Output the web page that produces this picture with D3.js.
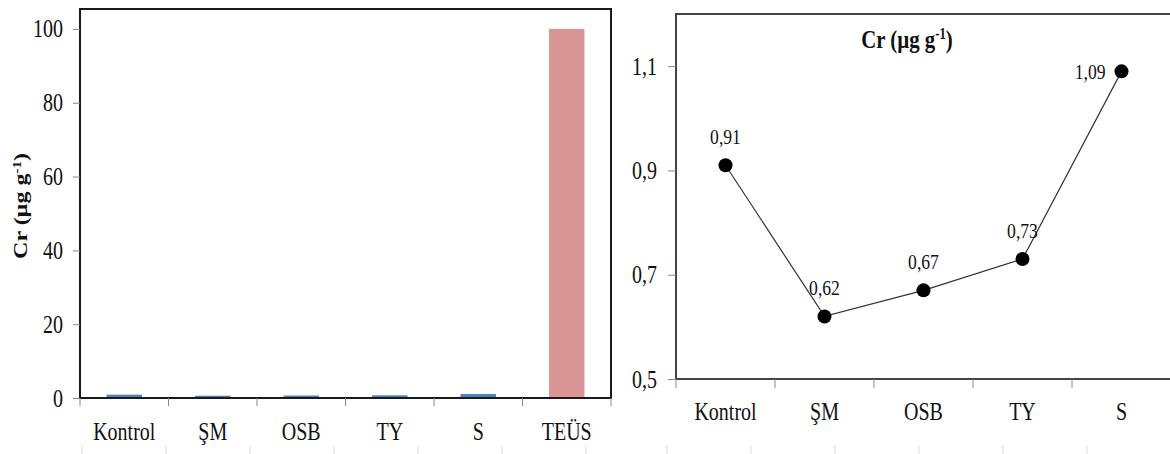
<!DOCTYPE html>
<html>
<head>
<meta charset="utf-8">
<script src="https://cdn.jsdelivr.net/npm/d3@7"></script>
<style>
  html, body { margin: 0; padding: 0; background: #fff; }
  svg { display: block; }
  text { font-family: "Liberation Serif", "Times New Roman", serif; fill: #111; }
</style>
</head>
<body>
<svg id="chart" width="1170" height="454"></svg>
<script>
// ---------- data ----------
const barCategories = ["Kontrol", "ŞM", "OSB", "TY", "S", "TEÜS"];
const barValues = [0.91, 0.62, 0.67, 0.73, 1.09, 100];
const barTicks = [0, 20, 40, 60, 80, 100];

const lineCategories = ["Kontrol", "ŞM", "OSB", "TY", "S"];
const lineValues = [0.91, 0.62, 0.67, 0.73, 1.09];
const lineLabels = ["0,91", "0,62", "0,67", "0,73", "1,09"];
const lineTicks = [0.5, 0.7, 0.9, 1.1];
const lineTickLabels = ["0,5", "0,7", "0,9", "1,1"];
const lineLabelSide = ["top", "top", "top", "top", "left"];

const titleMain = "Cr (µg g";
const titleSup = "-1";

// ---------- setup ----------
const SX = 0.8; // horizontal squeeze of the original picture's text
const svg = d3.select("#chart");

// ================= LEFT: bar chart =================
const L = { x0: 80, x1: 611, top: 9, zero: 398 };
const xL = d3.scaleBand().domain(barCategories).range([L.x0, L.x1]).padding(0);
const yL = d3.scaleLinear().domain([0, 105.4]).range([L.zero, L.top]);

const gL = svg.append("g");

// bars
gL.selectAll("rect.bar").data(barCategories).join("rect")
  .attr("class", "bar")
  .attr("x", (d) => xL(d) + xL.bandwidth() * 0.3)
  .attr("width", xL.bandwidth() * 0.4)
  .attr("y", (d, i) => yL(barValues[i]))
  .attr("height", (d, i) => yL(0) - yL(barValues[i]))
  .attr("fill", (d, i) => i === barCategories.length - 1 ? "#D99694" : "#4F81BD");

// frame
gL.append("rect")
  .attr("x", L.x0).attr("y", L.top)
  .attr("width", L.x1 - L.x0).attr("height", L.zero - L.top)
  .attr("fill", "none").attr("stroke", "#1a1a1a").attr("stroke-width", 2);

// y axis
const axL = gL.append("g").attr("transform", `translate(${L.x0},0)`)
  .call(d3.axisLeft(yL).tickValues(barTicks).tickSize(7).tickPadding(10));
axL.select(".domain").remove();
axL.selectAll(".tick line").attr("stroke", "#888");
axL.selectAll(".tick text").attr("font-size", 25).attr("fill", "#111")
  .style("font-family", "Liberation Serif");

// x axis ticks at band edges
const edgesL = barCategories.map((c) => xL(c)).concat([L.x1]);
gL.selectAll("line.xt").data(edgesL).join("line")
  .attr("x1", (d) => d).attr("x2", (d) => d)
  .attr("y1", L.zero).attr("y2", L.zero + 8)
  .attr("stroke", "#888");
gL.selectAll("text.xl").data(barCategories).join("text")
  .attr("class", "xl")
  .attr("x", (d) => xL(d) + xL.bandwidth() / 2)
  .attr("y", 440)
  .attr("text-anchor", "middle")
  .attr("font-size", 25)
  .text((d) => d);

// y title (rotated)
const yt = gL.append("g").attr("transform", "translate(27,206) rotate(-90)")
  .append("text").attr("data-noscale", 1)
  .attr("transform", `scale(1,${SX})`)
  .attr("text-anchor", "middle").attr("font-size", 24).attr("font-weight", "bold");
yt.append("tspan").text(titleMain);
yt.append("tspan").attr("baseline-shift", "super").attr("font-size", 15).text(titleSup);
yt.append("tspan").text(")");

// faint grid stubs at bottom
const stubL = d3.scaleBand().domain(d3.range(6)).range([82, 586]);
gL.selectAll("line.stub").data(d3.range(7)).join("line")
  .attr("x1", (d) => d < 6 ? stubL(d) : 586).attr("x2", (d) => d < 6 ? stubL(d) : 586)
  .attr("y1", 445).attr("y2", 454).attr("stroke", "#ddd");

// ================= RIGHT: line chart =================
const R = { x0: 676, x1: 1171, top: 14, bottom: 379 };
const xR = d3.scaleBand().domain(lineCategories).range([R.x0, R.x1]).padding(0);
const yR = d3.scaleLinear().domain([0.5, 1.2]).range([R.bottom, R.top]);

const gR = svg.append("g");

// frame: left, top, bottom
gR.append("path")
  .attr("d", `M${R.x1},${R.top}H${R.x0}V${R.bottom}H${R.x1}`)
  .attr("fill", "none").attr("stroke", "#444").attr("stroke-width", 2);

// y axis
const axR = gR.append("g").attr("transform", `translate(${R.x0},0)`)
  .call(d3.axisLeft(yR).tickValues(lineTicks).tickSize(8).tickPadding(11)
    .tickFormat((d, i) => lineTickLabels[i]));
axR.select(".domain").remove();
axR.selectAll(".tick line").attr("stroke", "#888");
axR.selectAll(".tick text").attr("font-size", 25).attr("fill", "#111")
  .style("font-family", "Liberation Serif");

// x ticks
const edgesR = lineCategories.map((c) => xR(c)).concat([R.x1]);
gR.selectAll("line.xt").data(edgesR).join("line")
  .attr("x1", (d) => d).attr("x2", (d) => d)
  .attr("y1", R.bottom).attr("y2", R.bottom + 9)
  .attr("stroke", "#888");
gR.selectAll("text.xl").data(lineCategories).join("text")
  .attr("class", "xl")
  .attr("x", (d) => xR(d) + xR.bandwidth() / 2)
  .attr("y", 420)
  .attr("text-anchor", "middle")
  .attr("font-size", 25)
  .text((d) => d);

// title
const tt = gR.append("text")
  .attr("x", 907).attr("y", 48)
  .attr("text-anchor", "middle").attr("font-size", 26).attr("font-weight", "bold");
tt.append("tspan").text(titleMain);
tt.append("tspan").attr("baseline-shift", "super").attr("font-size", 16).text(titleSup);
tt.append("tspan").text(")");

// line
const cx = (d) => xR(d) + xR.bandwidth() / 2;
gR.append("path")
  .datum(lineCategories)
  .attr("d", d3.line().x(cx).y((d, i) => yR(lineValues[i])))
  .attr("fill", "none").attr("stroke", "#333").attr("stroke-width", 1.2);

gR.selectAll("circle.pt").data(lineCategories).join("circle")
  .attr("class", "pt")
  .attr("cx", cx).attr("cy", (d, i) => yR(lineValues[i]))
  .attr("r", 7).attr("fill", "#000");

gR.selectAll("text.dl").data(lineCategories).join("text")
  .attr("class", "dl")
  .attr("x", (d, i) => lineLabelSide[i] === "left" ? cx(d) - 16 : cx(d))
  .attr("y", (d, i) => lineLabelSide[i] === "left" ? yR(lineValues[i]) + 8 : yR(lineValues[i]) - 21)
  .attr("text-anchor", (d, i) => lineLabelSide[i] === "left" ? "end" : "middle")
  .attr("font-size", 22)
  .text((d, i) => lineLabels[i]);

// faint grid stubs at bottom
const stubR = d3.scaleBand().domain(d3.range(5)).range([667, 1087]);
gR.selectAll("line.stub").data(d3.range(6)).join("line")
  .attr("x1", (d) => d < 5 ? stubR(d) : 1087).attr("x2", (d) => d < 5 ? stubR(d) : 1087)
  .attr("y1", 445).attr("y2", 454).attr("stroke", "#ddd");

// ---------- squeeze text horizontally like the original ----------
svg.selectAll("text").each(function () {
  const t = d3.select(this);
  if (t.attr("data-noscale")) return;
  const x = +t.attr("x") || 0;
  t.attr("transform", `translate(${x},0) scale(${SX},1) translate(${-x},0)`);
});
</script>
</body>
</html>
